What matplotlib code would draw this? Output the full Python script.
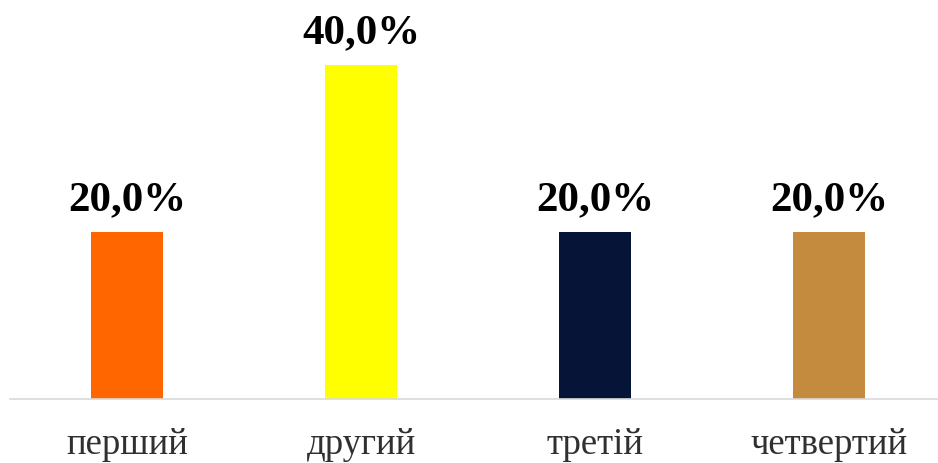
import matplotlib
matplotlib.use("Agg")
import matplotlib.pyplot as plt

categories = ["перший", "другий", "третій", "четвертий"]
values = [20.0, 40.0, 20.0, 20.0]
colors = ["#FF6600", "#FFFF00", "#061437", "#C48A3E"]

W, H = 938, 464
fig = plt.figure(figsize=(W / 100, H / 100), dpi=100)
ax = fig.add_axes([10 / W, 1 - 400 / H, 936 / W, 400 / H])
x = range(len(categories))
ax.bar(x, values, width=0.31, color=colors)
ax.set_xlim(-0.5, 3.5)
ax.set_ylim(0, 40 * 400 / 334)
for xi, v in zip(x, values):
    ax.annotate(f"{v:.1f}%".replace(".", ","), (xi, v), xytext=(0, 10),
                textcoords="offset points", ha="center", va="bottom",
                fontsize=31, fontweight="bold", family="Liberation Serif", color="black")
ax.set_xticks(list(x))
ax.set_xticklabels(categories, fontsize=26.5, family="Liberation Serif", color="#303030")
ax.tick_params(axis="x", length=0, pad=20)
ax.set_yticks([])
for s in ["top", "right", "left"]:
    ax.spines[s].set_visible(False)
ax.spines["bottom"].set_color("#D9D9D9")
ax.spines["bottom"].set_linewidth(1.2)
fig.savefig("out.png", dpi=100)
